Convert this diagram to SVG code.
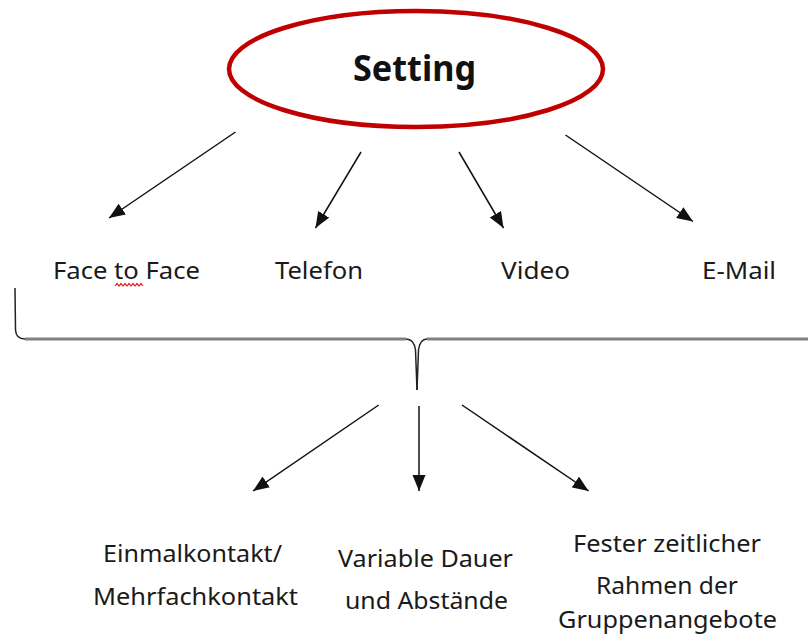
<svg xmlns="http://www.w3.org/2000/svg" width="808" height="638" viewBox="0 0 808 638">
<style>
.lbl{font-family:"Noto Sans","Open Sans","Liberation Sans",sans-serif;font-size:23px;fill:#1a1a1a;text-anchor:start}
.title{font-family:"Noto Sans","Open Sans","Liberation Sans",sans-serif;font-size:35px;font-weight:bold;fill:#111}
.arr{stroke:#111;stroke-width:1.5;fill:none;marker-end:url(#ah)}
</style>
<defs>
<marker id="ah" markerUnits="userSpaceOnUse" markerWidth="17" markerHeight="14" refX="16" refY="6.5" orient="auto">
<path d="M0,0 L16,6.5 L0,13 Z" fill="#111"/>
</marker>
</defs>
<rect width="808" height="638" fill="#fff"/>
<g id="setting">
<ellipse cx="416" cy="69" rx="187" ry="58" fill="none" stroke="#C00000" stroke-width="4.5"/>
<text class="title" x="353" y="81" textLength="123" lengthAdjust="spacingAndGlyphs">Setting</text>
</g>
<g id="connectors">
<line class="arr" x1="235.5" y1="132" x2="109" y2="218"/>
<line class="arr" x1="361" y1="152" x2="315.5" y2="228"/>
<line class="arr" x1="459" y1="152" x2="503.5" y2="228"/>
<line class="arr" x1="565.5" y1="135" x2="693" y2="221.5"/>
<line class="arr" x1="378.7" y1="405" x2="253" y2="491"/>
<line class="arr" x1="419" y1="406" x2="419" y2="491"/>
<line class="arr" x1="462" y1="405" x2="588.6" y2="491"/>
</g>
<g id="brace">
<path d="M15,288 L15.5,330 Q16,339 25,339 L406,339 Q414,339 415.5,350 L417,390" fill="none" stroke="#222" stroke-width="1.5"/>
<path d="M427,339 Q420,339 418.5,350 L417,390" fill="none" stroke="#222" stroke-width="1.5"/>
<path d="M25,339 L406,339 M427,339 L808,339" fill="none" stroke="#808080" stroke-width="3"/>
</g>
<g id="face-to-face">
<text class="lbl" x="53" y="279" textLength="147" lengthAdjust="spacingAndGlyphs">Face to Face</text>
<polyline points="115,286 117,283.5 119,286 121,283.5 123,286 125,283.5 127,286 129,283.5 131,286 133,283.5 135,286 137,283.5 139,286 141,283.5 143,286" fill="none" stroke="#e02020" stroke-width="1.2"/>
</g>
<g id="telefon"><text class="lbl" x="275" y="279" textLength="88" lengthAdjust="spacingAndGlyphs">Telefon</text></g>
<g id="video"><text class="lbl" x="501" y="279" textLength="69" lengthAdjust="spacingAndGlyphs">Video</text></g>
<g id="email"><text class="lbl" x="702" y="279" textLength="74" lengthAdjust="spacingAndGlyphs">E-Mail</text></g>
<g id="kontakt">
<text class="lbl" x="103" y="562" textLength="179" lengthAdjust="spacingAndGlyphs">Einmalkontakt/</text>
<text class="lbl" x="93" y="605" textLength="205" lengthAdjust="spacingAndGlyphs">Mehrfachkontakt</text>
</g>
<g id="dauer">
<text class="lbl" x="338" y="567" textLength="175" lengthAdjust="spacingAndGlyphs">Variable Dauer</text>
<text class="lbl" x="345" y="609" textLength="163" lengthAdjust="spacingAndGlyphs">und Abstände</text>
</g>
<g id="rahmen">
<text class="lbl" x="573" y="552" textLength="188" lengthAdjust="spacingAndGlyphs">Fester zeitlicher</text>
<text class="lbl" x="596" y="594" textLength="142" lengthAdjust="spacingAndGlyphs">Rahmen der</text>
<text class="lbl" x="558" y="628" textLength="219" lengthAdjust="spacingAndGlyphs">Gruppenangebote</text>
</g>
</svg>
